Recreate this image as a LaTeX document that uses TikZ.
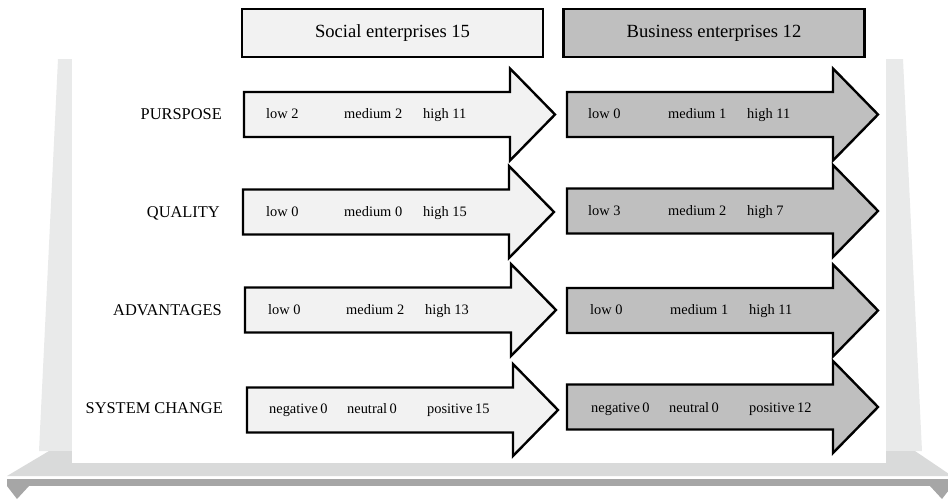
\documentclass[tikz,border=0pt]{standalone}
\usepackage{fontspec}
\setmainfont{Liberation Serif}
\definecolor{wallgray}{HTML}{E9EAEA}
\definecolor{floorgray}{HTML}{D9DADA}
\definecolor{bandgray}{HTML}{A6A6A6}
\definecolor{socfill}{HTML}{F2F2F2}
\definecolor{busfill}{HTML}{BFBFBF}
\tikzset{
  headbox/.style={draw=black, line width=2.4pt, minimum width=301pt, minimum height=48pt,
    inner sep=0pt},
  headtext/.style={anchor=base, inner sep=0pt, font=\fontsize{18.6}{22}\selectfont},
  rowlabel/.style={anchor=base east, inner sep=0pt, font=\fontsize{16.4}{19}\selectfont},
  val/.style={anchor=base west, inner sep=0pt, font=\fontsize{14.4}{17}\selectfont},
  fatarrow/.style={draw=black, line width=2.4pt, line join=miter},
}
% block arrow whose tail middle sits at (#1,#2)
\newcommand\blockarrow[3]{%
  \draw[fatarrow, fill=#3, shift={(#1,#2)}]
    (0,-22.5) -- (266,-22.5) -- (266,-46) -- (311,0) -- (266,46) -- (266,22.5) -- (0,22.5) -- cycle;}
\begin{document}
\begin{tikzpicture}[x=1pt, y=-1pt]
\useasboundingbox (0,0) rectangle (948,499);
\clip (0,0) rectangle (948,499);

% stage: back wall, floor, front band
\fill[wallgray] (58,59) -- (903,59) -- (922,451) -- (39,451) -- cycle;
\fill[floorgray] (49,451) -- (915,451) -- (952,476) -- (7,476) -- cycle;
\fill[white] (72,40) rectangle (886,463);
\fill[bandgray] (7,479) rectangle (952,486);
\fill[bandgray] (7,486) -- (29,486) -- (17,499) -- cycle;
\fill[bandgray] (930,486) -- (952,486) -- (942,499) -- cycle;

% column headers
\node[headbox, fill=socfill] (soc) at (392.5,33) {};
\node[headbox, fill=busfill] (bus) at (714,33) {};
\node[headtext] (soctext) at (392.5,37) {Social enterprises 15};
\node[headtext] (bustext) at (714,37) {Business enterprises 12};

% arrows
\blockarrow{244}{114.5}{socfill}
\blockarrow{567}{114.5}{busfill}
\blockarrow{243}{212}{socfill}
\blockarrow{567}{211}{busfill}
\blockarrow{245}{310}{socfill}
\blockarrow{567}{310.5}{busfill}
\blockarrow{247}{410}{socfill}
\blockarrow{567}{407}{busfill}

% row labels
\node[rowlabel] (l1) at (222,119.5) {PURSPOSE};
\node[rowlabel] (l2) at (220,217.5) {QUALITY};
\node[rowlabel] (l3) at (222,315) {ADVANTAGES};
\node[rowlabel] (l4) at (223,413.5) {SYSTEM CHANGE};

% values, purpose
\node[val] (s1a) at (266,118.5) {low 2};
\node[val] (s1b) at (344,118.5) {medium 2};
\node[val] (s1c) at (423,118.5) {high 11};
\node[val] (b1a) at (588,118.5) {low 0};
\node[val] (b1b) at (668,118.5) {medium 1};
\node[val] (b1c) at (747,118.5) {high 11};
% values, quality
\node[val] (s2a) at (266,216) {low 0};
\node[val] (s2b) at (344,216) {medium 0};
\node[val] (s2c) at (423,216) {high 15};
\node[val] (b2a) at (588,215.5) {low 3};
\node[val] (b2b) at (668,215.5) {medium 2};
\node[val] (b2c) at (747,215.5) {high 7};
% values, advantages
\node[val] (s3a) at (268,314) {low 0};
\node[val] (s3b) at (346,314) {medium 2};
\node[val] (s3c) at (425,314) {high 13};
\node[val] (b3a) at (590,314.5) {low 0};
\node[val] (b3b) at (670,314.5) {medium 1};
\node[val] (b3c) at (749,314.5) {high 11};
% values, system change
\node[val] (s4a) at (269,413) {negative\,0};
\node[val] (s4b) at (347,413) {neutral\,0};
\node[val] (s4c) at (427,413) {positive\,15};
\node[val] (b4a) at (591,412) {negative\,0};
\node[val] (b4b) at (669,412) {neutral\,0};
\node[val] (b4c) at (749,412) {positive\,12};
\end{tikzpicture}
\end{document}
